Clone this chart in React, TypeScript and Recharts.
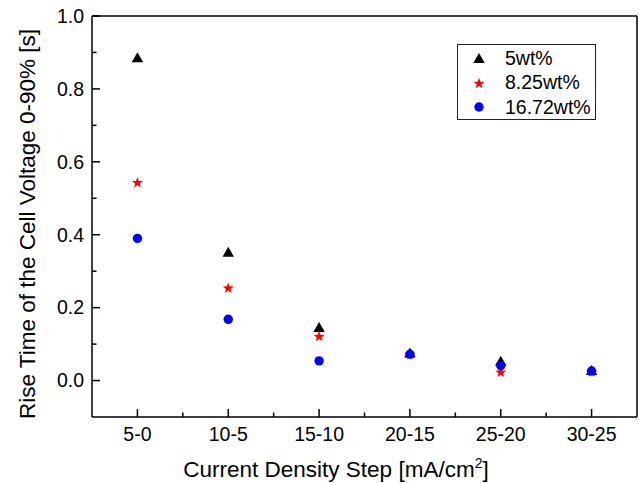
import React from 'react';
import { ScatterChart, Scatter, XAxis, YAxis, Legend, Label } from 'recharts';

// ---- data ----
const categories = ['5-0', '10-5', '15-10', '20-15', '25-20', '30-25'];
const values5wt = [0.887, 0.353, 0.147, 0.077, 0.054, 0.029];
const values825wt = [0.544, 0.255, 0.122, 0.073, 0.024, 0.025];
const values1672wt = [0.39, 0.168, 0.054, 0.072, 0.041, 0.026];
const seriesNames = ['5wt%', '8.25wt%', '16.72wt%'];
const seriesColors = ['#000000', '#ff0000', '#0000ff'];
const xMajorTicks = [1, 2, 3, 4, 5, 6];
const xMinorTicks = [1.5, 2.5, 3.5, 4.5, 5.5];
const yMajorTicks = [0, 0.2, 0.4, 0.6, 0.8, 1.0];
const yMinorTicks = [0.1, 0.3, 0.5, 0.7, 0.9];
const yTickLabels = ['0.0', '0.2', '0.4', '0.6', '0.8', '1.0'];
const xDomain = [0.5, 6.5];
const yDomain = [-0.1, 1.0];
const xTitle = 'Current Density Step [mA/cm';
const xTitleSup = '2';
const xTitleEnd = ']';
const yTitle = 'Rise Time of the Cell Voltage 0-90% [s]';

const toPoints = (vals: number[]) => vals.map((v, i) => ({ x: xMajorTicks[i], y: v }));
const pts5 = toPoints(values5wt);
const pts825 = toPoints(values825wt);
const pts1672 = toPoints(values1672wt);

const FONT = '"Liberation Sans", Arial, sans-serif';
const MAJOR = 8;
const MINOR = 4.5;
const TICK_FS = 19.5;
const TITLE_FS = 22.5;

const idxIn = (list: number[], v: number) => list.findIndex((t) => Math.abs(t - v) < 1e-6);

// ---- marker shapes ----
const TriangleShape = (p: any) => {
  const { cx, cy, fill } = p;
  const w = 11.5;
  const h = 10;
  return <path d={`M${cx},${cy - h / 2}L${cx + w / 2},${cy + h / 2}L${cx - w / 2},${cy + h / 2}Z`} fill={fill} />;
};
const StarShape = (p: any) => {
  const { cx, cy, fill } = p;
  const ro = 5.8;
  const ri = 2.4;
  let d = '';
  for (let k = 0; k < 10; k++) {
    const r = k % 2 === 0 ? ro : ri;
    const a = -Math.PI / 2 + (k * Math.PI) / 5;
    d += `${k === 0 ? 'M' : 'L'}${cx + r * Math.cos(a)},${cy + 0.6 + r * Math.sin(a)}`;
  }
  return <path d={d + 'Z'} fill={fill} />;
};
const CircleShape = (p: any) => {
  const { cx, cy, fill } = p;
  return <circle cx={cx} cy={cy} r={4.7} fill={fill} />;
};
const shapes = [TriangleShape, StarShape, CircleShape];

// ---- tick renderers ----
const BottomTick = (p: any) => {
  const v = p.payload.value;
  const mi = idxIn(xMajorTicks, v);
  const len = mi >= 0 ? MAJOR : MINOR;
  return (
    <g>
      <line x1={p.x} y1={p.y} x2={p.x} y2={p.y - len} stroke="#000" strokeWidth={1.5} />
      {mi >= 0 && (
        <text x={p.x} y={p.y + 24} textAnchor="middle" fontSize={TICK_FS} fontFamily={FONT} fill="#000">
          {categories[mi]}
        </text>
      )}
    </g>
  );
};
const TopTick = (p: any) => {
  const v = p.payload.value;
  const len = idxIn(xMajorTicks, v) >= 0 ? MAJOR : MINOR;
  return <line x1={p.x} y1={p.y} x2={p.x} y2={p.y + len} stroke="#000" strokeWidth={1.5} />;
};
const LeftTick = (p: any) => {
  const v = p.payload.value;
  const mi = idxIn(yMajorTicks, v);
  const len = mi >= 0 ? MAJOR : MINOR;
  return (
    <g>
      <line x1={p.x} y1={p.y} x2={p.x + len} y2={p.y} stroke="#000" strokeWidth={1.5} />
      {mi >= 0 && (
        <text x={p.x - 8} y={p.y + TICK_FS * 0.35} textAnchor="end" fontSize={TICK_FS} fontFamily={FONT} fill="#000">
          {yTickLabels[mi]}
        </text>
      )}
    </g>
  );
};
const RightTick = (p: any) => {
  const v = p.payload.value;
  const len = idxIn(yMajorTicks, v) >= 0 ? MAJOR : MINOR;
  return <line x1={p.x} y1={p.y} x2={p.x - len} y2={p.y} stroke="#000" strokeWidth={1.5} />;
};

// ---- axis titles ----
const XTitle = (p: any) => {
  const vb = p.viewBox || {};
  const cx = vb.x + vb.width / 2 - 28.5;
  const y = vb.y + 60;
  return (
    <text x={cx} y={y} textAnchor="middle" fontSize={TITLE_FS} fontFamily={FONT} fill="#000">
      {xTitle}
      <tspan fontSize={14} dy={-9}>{xTitleSup}</tspan>
      <tspan dy={9}>{xTitleEnd}</tspan>
    </text>
  );
};
const YTitle = (p: any) => {
  const vb = p.viewBox || {};
  const x = vb.x + 35;
  const y = vb.y + vb.height / 2 + 7.5;
  return (
    <text x={x} y={y} textAnchor="middle" fontSize={TITLE_FS} fontFamily={FONT} fill="#000" transform={`rotate(-90, ${x}, ${y})`}>
      {yTitle}
    </text>
  );
};

// ---- legend ----
const LegendBox = (props: any) => {
  const payload = [...(props.payload || [])].sort(
    (a: any, b: any) => seriesNames.indexOf(a.value) - seriesNames.indexOf(b.value)
  );
  return (
    <div
      style={{
        width: 139,
        height: 76,
        border: '1px solid #222',
        boxSizing: 'border-box',
        background: '#fff',
        fontFamily: FONT,
        fontSize: 19.5,
        color: '#000',
        paddingTop: 0.5,
      }}
    >
      {payload.map((entry: any, i: number) => {
        const si = seriesNames.indexOf(entry.value);
        const Shape = shapes[si >= 0 ? si : i];
        return (
          <div key={i} style={{ height: 24.7, display: 'flex', alignItems: 'center', lineHeight: '24.7px', whiteSpace: 'nowrap' }}>
            <svg width={42} height={24} style={{ flex: 'none' }}>
              <Shape cx={21} cy={12} fill={seriesColors[si >= 0 ? si : i]} />
            </svg>
            <span style={{ marginLeft: 5 }}>{entry.value}</span>
          </div>
        );
      })}
    </div>
  );
};

export default function App() {
  return (
    <div style={{ position: 'absolute', left: 0, top: 0, width: 639, height: 483, background: '#fff', fontFamily: FONT }}>
      <ScatterChart width={639} height={483} margin={{ top: 15, right: 1, bottom: 0, left: 0 }}>
        <XAxis
          xAxisId="bottom"
          orientation="bottom"
          type="number"
          dataKey="x"
          domain={xDomain}
          ticks={[...xMajorTicks, ...xMinorTicks]}
          interval={0}
          height={66}
          tickSize={0}
          tickMargin={0}
          tickLine={false}
          tick={BottomTick}
          axisLine={{ stroke: '#000', strokeWidth: 1.5 }}
        >
          <Label content={XTitle} />
        </XAxis>
        <XAxis
          xAxisId="top"
          orientation="top"
          type="number"
          dataKey="x"
          domain={xDomain}
          ticks={[...xMajorTicks, ...xMinorTicks]}
          interval={0}
          height={1}
          tickSize={0}
          tickMargin={0}
          tickLine={false}
          tick={TopTick}
          axisLine={{ stroke: '#000', strokeWidth: 1.5 }}
        />
        <YAxis
          yAxisId="left"
          orientation="left"
          type="number"
          dataKey="y"
          domain={yDomain}
          ticks={[...yMajorTicks, ...yMinorTicks]}
          interval={0}
          width={92}
          tickSize={0}
          tickMargin={0}
          tickLine={false}
          tick={LeftTick}
          axisLine={{ stroke: '#000', strokeWidth: 1.5 }}
        >
          <Label content={YTitle} />
        </YAxis>
        <YAxis
          yAxisId="right"
          orientation="right"
          type="number"
          dataKey="y"
          domain={yDomain}
          ticks={[...yMajorTicks, ...yMinorTicks]}
          interval={0}
          width={1}
          tickSize={0}
          tickMargin={0}
          tickLine={false}
          tick={RightTick}
          axisLine={{ stroke: '#000', strokeWidth: 1.5 }}
        />
        <Legend
          layout="vertical"
          align="center"
          verticalAlign="middle"
          content={LegendBox}
          wrapperStyle={{ left: 457, top: 44, width: 139, height: 76 }}
        />
        <Scatter name={seriesNames[0]} data={pts5} xAxisId="bottom" yAxisId="left" fill={seriesColors[0]} shape={TriangleShape} isAnimationActive={false} />
        <Scatter name={seriesNames[1]} data={pts825} xAxisId="bottom" yAxisId="left" fill={seriesColors[1]} shape={StarShape} isAnimationActive={false} />
        <Scatter name={seriesNames[2]} data={pts1672} xAxisId="bottom" yAxisId="left" fill={seriesColors[2]} shape={CircleShape} isAnimationActive={false} />
      </ScatterChart>
    </div>
  );
}
